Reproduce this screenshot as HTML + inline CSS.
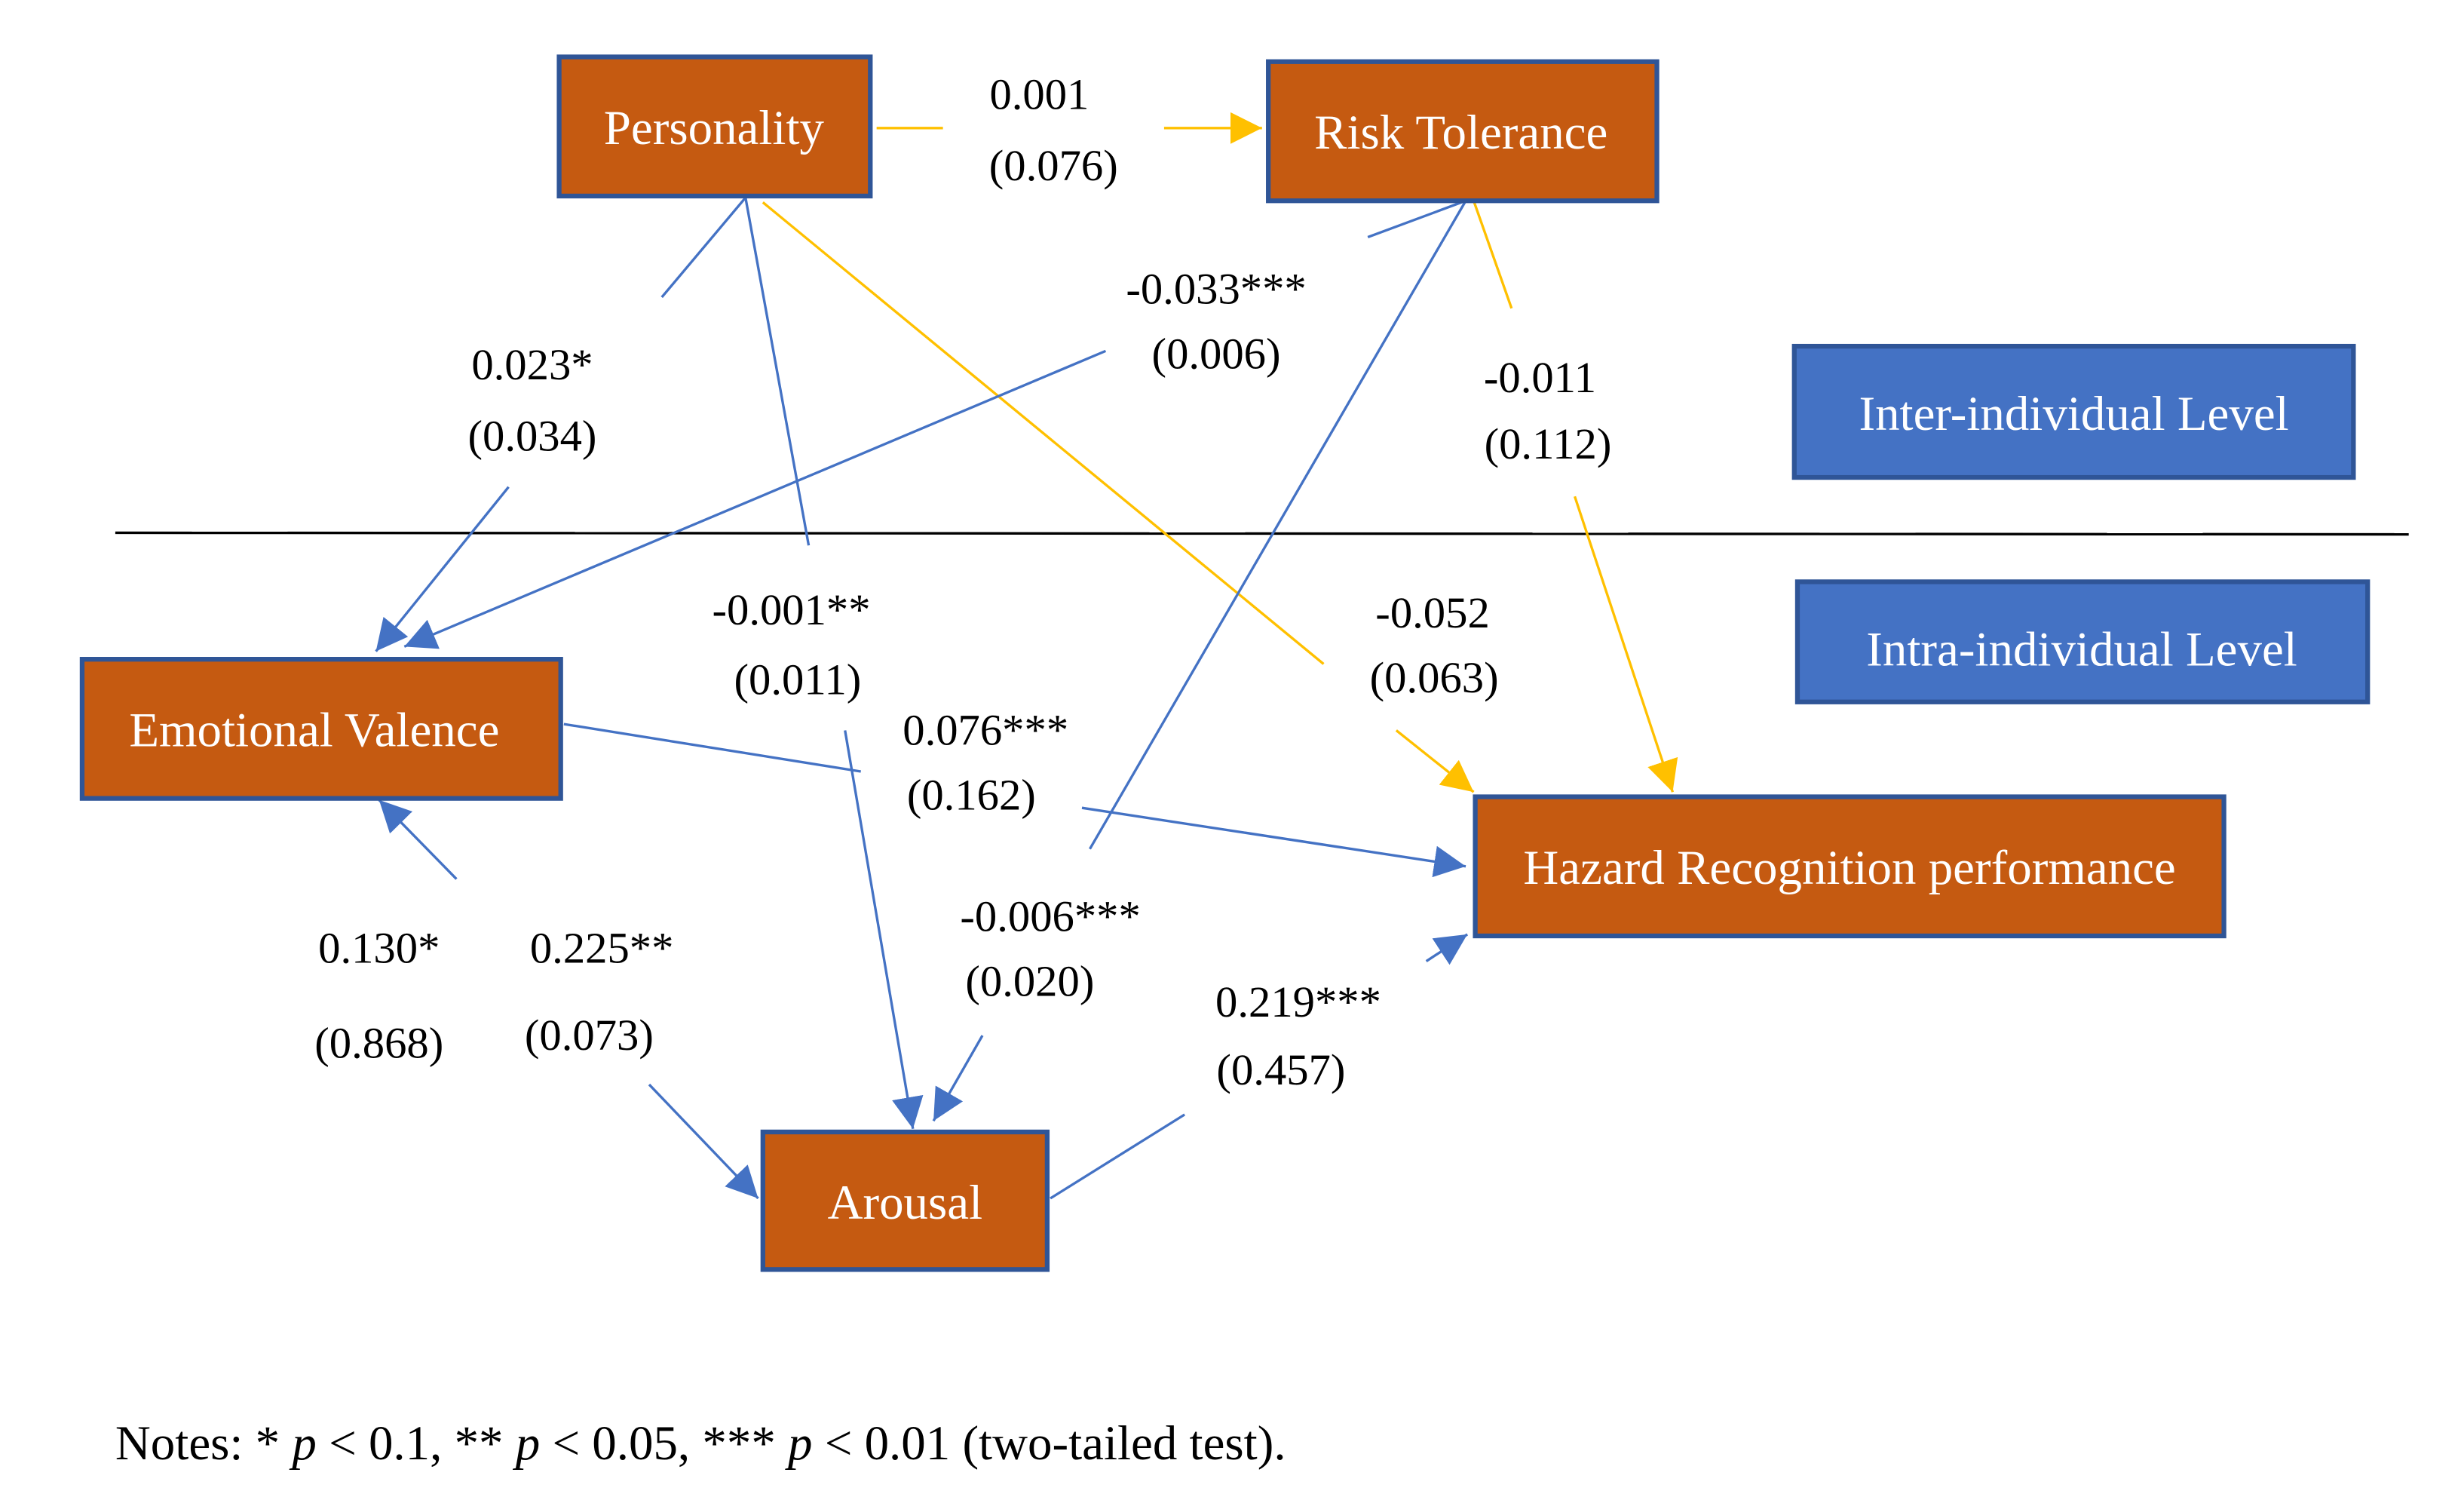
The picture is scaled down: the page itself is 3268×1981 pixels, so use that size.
<!DOCTYPE html>
<html><head><meta charset="utf-8"><style>
html,body{margin:0;padding:0;background:#fff;}
svg{display:block;}
text{font-family:"Liberation Serif",serif;}
</style></head><body>
<svg width="3268" height="1981" viewBox="0 0 1560 945" preserveAspectRatio="none" xmlns="http://www.w3.org/2000/svg">
<defs>
<marker id="ay" markerUnits="userSpaceOnUse" markerWidth="22" markerHeight="20" refX="20" refY="10" orient="auto"><path d="M0,0 L20,10 L0,20 Z" fill="#FFC000"/></marker>
<marker id="ab" markerUnits="userSpaceOnUse" markerWidth="22" markerHeight="20" refX="20" refY="10" orient="auto"><path d="M0,0 L20,10 L0,20 Z" fill="#4472C4"/></marker>
</defs>
<rect width="1560" height="945" fill="#fff"/>
<line x1="73" y1="337" x2="1525" y2="338" stroke="#000" stroke-width="1.6"/>
<g stroke="#FFC000" stroke-width="1.6" fill="none">
<line x1="555" y1="81" x2="597" y2="81"/>
<line x1="737" y1="81" x2="799" y2="81" marker-end="url(#ay)"/>
<line x1="483" y1="128" x2="838" y2="420"/>
<line x1="884" y1="462" x2="933" y2="501" marker-end="url(#ay)"/>
<line x1="933" y1="127" x2="957" y2="195"/>
<line x1="997" y1="314" x2="1059" y2="501" marker-end="url(#ay)"/>
</g>
<g stroke="#4472C4" stroke-width="1.6" fill="none">
<line x1="472" y1="125" x2="419" y2="188"/>
<line x1="322" y1="308" x2="238" y2="412" marker-end="url(#ab)"/>
<line x1="472" y1="125" x2="512" y2="345"/>
<line x1="535" y1="462" x2="578" y2="714" marker-end="url(#ab)"/>
<line x1="700" y1="222" x2="256" y2="409" marker-end="url(#ab)"/>
<line x1="928" y1="127" x2="866" y2="150"/>
<line x1="928" y1="127" x2="690" y2="537"/>
<line x1="622" y1="655" x2="591" y2="709" marker-end="url(#ab)"/>
<line x1="357" y1="458" x2="545" y2="488"/>
<line x1="685" y1="511" x2="928" y2="548" marker-end="url(#ab)"/>
<line x1="289" y1="556" x2="240" y2="506" marker-end="url(#ab)"/>
<line x1="411" y1="686" x2="480" y2="758" marker-end="url(#ab)"/>
<line x1="665" y1="758" x2="750" y2="705"/>
<line x1="903" y1="608" x2="929" y2="591" marker-end="url(#ab)"/>
</g>
<g stroke="#2F5597" stroke-width="3">
<rect x="354" y="36" width="197" height="88" fill="#C55A11"/>
<rect x="803" y="39" width="246" height="88" fill="#C55A11"/>
<rect x="52" y="417" width="303" height="88" fill="#C55A11"/>
<rect x="934" y="504" width="474" height="88" fill="#C55A11"/>
<rect x="483" y="716" width="180" height="87" fill="#C55A11"/>
<rect x="1136" y="219" width="354" height="83" fill="#4472C4"/>
<rect x="1138" y="368" width="361" height="76" fill="#4472C4"/>
</g>
<g fill="#fff" font-size="31" text-anchor="middle">
<text x="452" y="91">Personality</text>
<text x="925" y="94">Risk Tolerance</text>
<text x="199" y="472">Emotional Valence</text>
<text x="1171" y="559">Hazard Recognition performance</text>
<text x="573" y="771">Arousal</text>
<text x="1313" y="272">Inter-individual Level</text>
<text x="1318" y="421">Intra-individual Level</text>
</g>
<g fill="#000" font-size="28" text-anchor="middle">
<text x="658" y="69">0.001</text><text x="667" y="114">(0.076)</text>
<text x="770" y="192">-0.033***</text><text x="770" y="233">(0.006)</text>
<text x="337" y="240">0.023*</text><text x="337" y="285">(0.034)</text>
<text x="975" y="248">-0.011</text><text x="980" y="290">(0.112)</text>
<text x="501" y="395">-0.001**</text><text x="505" y="439">(0.011)</text>
<text x="907" y="397">-0.052</text><text x="908" y="438">(0.063)</text>
<text x="624" y="471">0.076***</text><text x="615" y="512">(0.162)</text>
<text x="240" y="609">0.130*</text><text x="240" y="669">(0.868)</text>
<text x="381" y="609">0.225**</text><text x="373" y="664">(0.073)</text>
<text x="665" y="589">-0.006***</text><text x="652" y="630">(0.020)</text>
<text x="822" y="643">0.219***</text><text x="811" y="686">(0.457)</text>
</g>
<text x="73" y="923" font-size="31" fill="#000">Notes: * <tspan font-style="italic">p</tspan> &lt; 0.1, ** <tspan font-style="italic">p</tspan> &lt; 0.05, *** <tspan font-style="italic">p</tspan> &lt; 0.01 (two-tailed test).</text>
</svg>
</body></html>
